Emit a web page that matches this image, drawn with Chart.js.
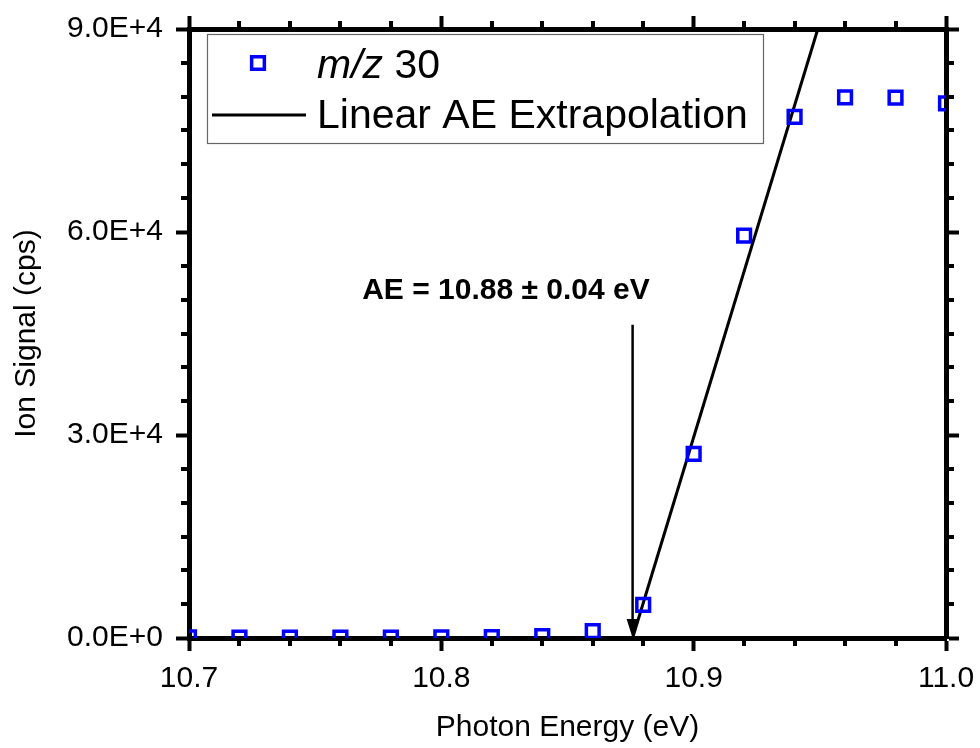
<!DOCTYPE html>
<html>
<head>
<meta charset="utf-8">
<title>m/z 30 appearance energy</title>
<script src="https://cdn.jsdelivr.net/npm/chart.js@4.4.1/dist/chart.umd.min.js"></script>
<style>
  html, body { margin: 0; padding: 0; background: #fff; }
  #wrap { width: 980px; height: 748px; }
</style>
</head>
<body>
<div id="wrap"><canvas id="aeChart"></canvas></div>
<script>
// photon energy (eV) and ion signal (cps)
const energies = [10.70, 10.72, 10.74, 10.76, 10.78, 10.80, 10.82, 10.84,
                  10.86, 10.88, 10.90, 10.92, 10.94, 10.96, 10.98, 11.00];
const signal = [80, 70, 70, 70, 70, 80, 120, 270,
                1000, 4900, 27200, 59450, 77000, 79900, 79850, 79000];

// linear fit used for the AE extrapolation
const fitX = [10.8758, 10.9492];
const fitY = [0, 90000];

const xTicks = [10.7, 10.8, 10.9, 11.0];
const yTicks = [0, 30000, 60000, 90000];
const xMinorStep = 0.02;
const yMinorStep = 5000;

const seriesLabel = 'm/z 30';
const fitLabel = 'Linear AE Extrapolation';
const aeText = 'AE = 10.88 \u00b1 0.04 eV';
const aeEnergy = 10.8758;

const FONT = '"Liberation Sans", Arial, sans-serif';
const BLUE = '#0000ff';

const axisBase = {
  type: 'linear',
  z: 1,
  border: { color: '#000', width: 5 },
  grid: { drawOnChartArea: false, drawTicks: true, tickLength: 13, tickWidth: 4, tickColor: '#000' }
};

// fixed box sizes so the plot area lands where the original one is
function fixBox(size) {
  return s => {
    if (s.isHorizontal()) s.height = size; else s.width = size;
    s.paddingLeft = s.paddingRight = s.paddingTop = s.paddingBottom = 0;
  };
}

const extras = {
  id: 'extras',
  afterDraw(chart) {
    const { ctx, chartArea: a, scales: { x, y } } = chart;
    ctx.save();

    // minor ticks on all four sides
    ctx.strokeStyle = '#000';
    ctx.lineWidth = 4;
    ctx.beginPath();
    for (let v = xTicks[0]; v < xTicks[xTicks.length - 1] - 1e-9; v += xMinorStep) {
      if (xTicks.some(t => Math.abs(t - v) < 1e-6)) continue;
      const px = Math.round(x.getPixelForValue(v));
      ctx.moveTo(px, a.bottom); ctx.lineTo(px, a.bottom + 8);
      ctx.moveTo(px, a.top); ctx.lineTo(px, a.top - 8);
    }
    for (let v = yTicks[0]; v < yTicks[yTicks.length - 1]; v += yMinorStep) {
      if (v % 30000 === 0) continue;
      const py = Math.round(y.getPixelForValue(v));
      ctx.moveTo(a.left, py); ctx.lineTo(a.left - 8, py);
      ctx.moveTo(a.right, py); ctx.lineTo(a.right + 8, py);
    }
    ctx.stroke();

    // AE arrow
    const ax = x.getPixelForValue(aeEnergy);
    const tip = y.getPixelForValue(0);
    const top = y.getPixelForValue(46300);
    ctx.lineWidth = 2.5;
    ctx.beginPath();
    ctx.moveTo(ax, top);
    ctx.lineTo(ax, tip - 16);
    ctx.stroke();
    ctx.fillStyle = '#000';
    ctx.beginPath();
    ctx.moveTo(ax, tip);
    ctx.lineTo(ax - 6, tip - 19);
    ctx.lineTo(ax + 6, tip - 19);
    ctx.closePath();
    ctx.fill();

    ctx.font = 'bold 30px ' + FONT;
    ctx.textAlign = 'center';
    ctx.textBaseline = 'alphabetic';
    ctx.fillText(aeText, x.getPixelForValue(10.8256), y.getPixelForValue(50100));

    // legend box
    const lx = 207, ly = 34, lw = 556, lh = 109;
    ctx.lineWidth = 1.2;
    ctx.strokeStyle = '#666';
    ctx.strokeRect(lx + 0.5, ly + 0.5, lw, lh);

    const pts = chart.data.datasets[0];
    ctx.strokeStyle = pts.pointBorderColor;
    ctx.lineWidth = pts.pointBorderWidth;
    ctx.fillStyle = '#fff';
    Chart.helpers.drawPoint(ctx, { pointStyle: 'rect', radius: pts.pointRadius, borderWidth: pts.pointBorderWidth }, 258, 63);

    ctx.fillStyle = '#000';
    ctx.textAlign = 'left';
    const parts = seriesLabel.split(' ');
    ctx.font = 'italic 41px ' + FONT;
    ctx.fillText(parts[0], 317, 78);
    const w = ctx.measureText(parts[0]).width;
    ctx.font = '41px ' + FONT;
    ctx.fillText(' ' + parts.slice(1).join(' '), 317 + w, 78);

    const fit = chart.data.datasets[1];
    ctx.strokeStyle = fit.borderColor;
    ctx.lineWidth = fit.borderWidth;
    ctx.beginPath();
    ctx.moveTo(212, 115);
    ctx.lineTo(306, 115);
    ctx.stroke();
    ctx.fillText(fitLabel, 317, 128);

    ctx.restore();
  }
};

new Chart(document.getElementById('aeChart'), {
  type: 'scatter',
  data: {
    datasets: [{
      label: seriesLabel,
      data: energies.map((e, i) => ({ x: e, y: signal[i] })),
      pointStyle: 'rect',
      pointRadius: 9,
      pointBorderWidth: 3.5,
      pointBorderColor: BLUE,
      pointBackgroundColor: 'rgba(255,255,255,0)',
      showLine: false,
      clip: 0
    }, {
      type: 'line',
      label: fitLabel,
      data: fitX.map((e, i) => ({ x: e, y: fitY[i] })),
      borderColor: '#000',
      borderWidth: 3,
      pointRadius: 0,
      clip: 0
    }]
  },
  options: {
    responsive: true,
    maintainAspectRatio: false,
    animation: false,
    events: [],
    layout: { padding: 0 },
    plugins: { legend: { display: false }, tooltip: { enabled: false } },
    scales: {
      x: {
        ...axisBase,
        position: 'bottom',
        min: 10.7, max: 11.0,
        afterBuildTicks: s => { s.ticks = xTicks.map(v => ({ value: v })); },
        afterFit: fixBox(110),
        ticks: { color: '#000', padding: 10, font: { family: FONT, size: 30 }, callback: v => v.toFixed(1) },
        title: { display: true, text: 'Photon Energy (eV)', color: '#000', padding: { top: 0, bottom: 2 }, font: { family: FONT, size: 30 } }
      },
      y: {
        ...axisBase,
        position: 'left',
        min: 0, max: 90000,
        afterBuildTicks: s => { s.ticks = yTicks.map(v => ({ value: v })); },
        afterFit: fixBox(189),
        ticks: { color: '#000', padding: 13, font: { family: FONT, size: 30 }, callback: v => v.toExponential(1).replace('e', 'E') },
        title: { display: true, text: 'Ion Signal (cps)', color: '#000', padding: { top: 9, bottom: 0 }, font: { family: FONT, size: 30 } }
      },
      x2: {
        ...axisBase,
        position: 'top',
        min: 10.7, max: 11.0,
        afterBuildTicks: s => { s.ticks = xTicks.map(v => ({ value: v })); },
        afterFit: fixBox(29),
        ticks: { display: false }
      },
      y2: {
        ...axisBase,
        position: 'right',
        min: 0, max: 90000,
        afterBuildTicks: s => { s.ticks = yTicks.map(v => ({ value: v })); },
        afterFit: fixBox(34),
        ticks: { display: false }
      }
    }
  },
  plugins: [extras]
});
</script>
</body>
</html>
